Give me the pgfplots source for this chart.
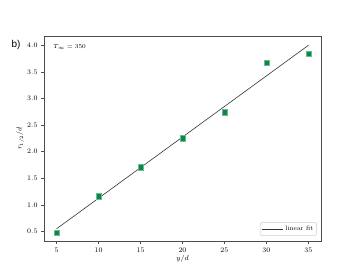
\documentclass[border=0pt]{standalone}
\usepackage{pgfplots}
\pgfplotsset{compat=1.18}
\usepackage{fontspec}
\newfontfamily\labelfont{Liberation Sans}
\definecolor{mkgreen}{RGB}{12,136,70}
\begin{document}
\begin{tikzpicture}[x=1bp,y=1bp]
\path[use as bounding box] (0,0) rectangle (357,276);
\begin{axis}[
  at={(44bp,35bp)}, anchor=south west,
  scale only axis, width=277bp, height=205bp,
  xmin=3.5, xmax=36.5, ymin=0.32, ymax=4.175,
  xtick={5,10,...,35},
  ytick={0.5,1.0,...,4.0},
  yticklabel style={/pgf/number format/fixed,/pgf/number format/fixed zerofill,/pgf/number format/precision=1},
  tick label style={font=\fontsize{6.8}{7}\selectfont},
  label style={font=\fontsize{7}{8}\selectfont},
  axis line style={black!70, line width=0.6pt},
  tick style={black!70, line width=0.5pt},
  tick align=outside, tickwidth=3pt,
  xtick pos=bottom, ytick pos=left,
  xlabel={$y/d$}, ylabel={$r_{1/2}/d$},
  xlabel style={yshift=4pt},
  ylabel style={yshift=-4pt},
  legend style={font=\fontsize{6.5}{7}\selectfont, draw=black!20, rounded corners=1.5pt, inner sep=1.5pt, at={(0.985,0.025)}, anchor=south east},
  legend image code/.code={\draw[#1] (0cm,0cm) -- (0.75cm,0cm);},
  legend cell align=left,
]
\addplot[only marks, mark=square*, mark size=2.7pt, mark options={fill=mkgreen, draw=mkgreen!60}, forget plot]
coordinates {(5,0.475) (10,1.16) (15,1.71) (20,2.256) (25,2.74) (30,3.67) (35,3.84)};
\addplot[black!80, line width=0.6pt] coordinates {(5,0.55) (35,4.0)};
\addlegendentry{linear fit}
\node[anchor=west, font=\fontsize{6.5}{7}\selectfont] at (axis cs:4.2,3.97) {$T_\infty = 350$};
\end{axis}
\node[anchor=west, font=\labelfont\fontsize{10}{11}\selectfont] at (8,231) {b)};
\end{tikzpicture}
\end{document}
